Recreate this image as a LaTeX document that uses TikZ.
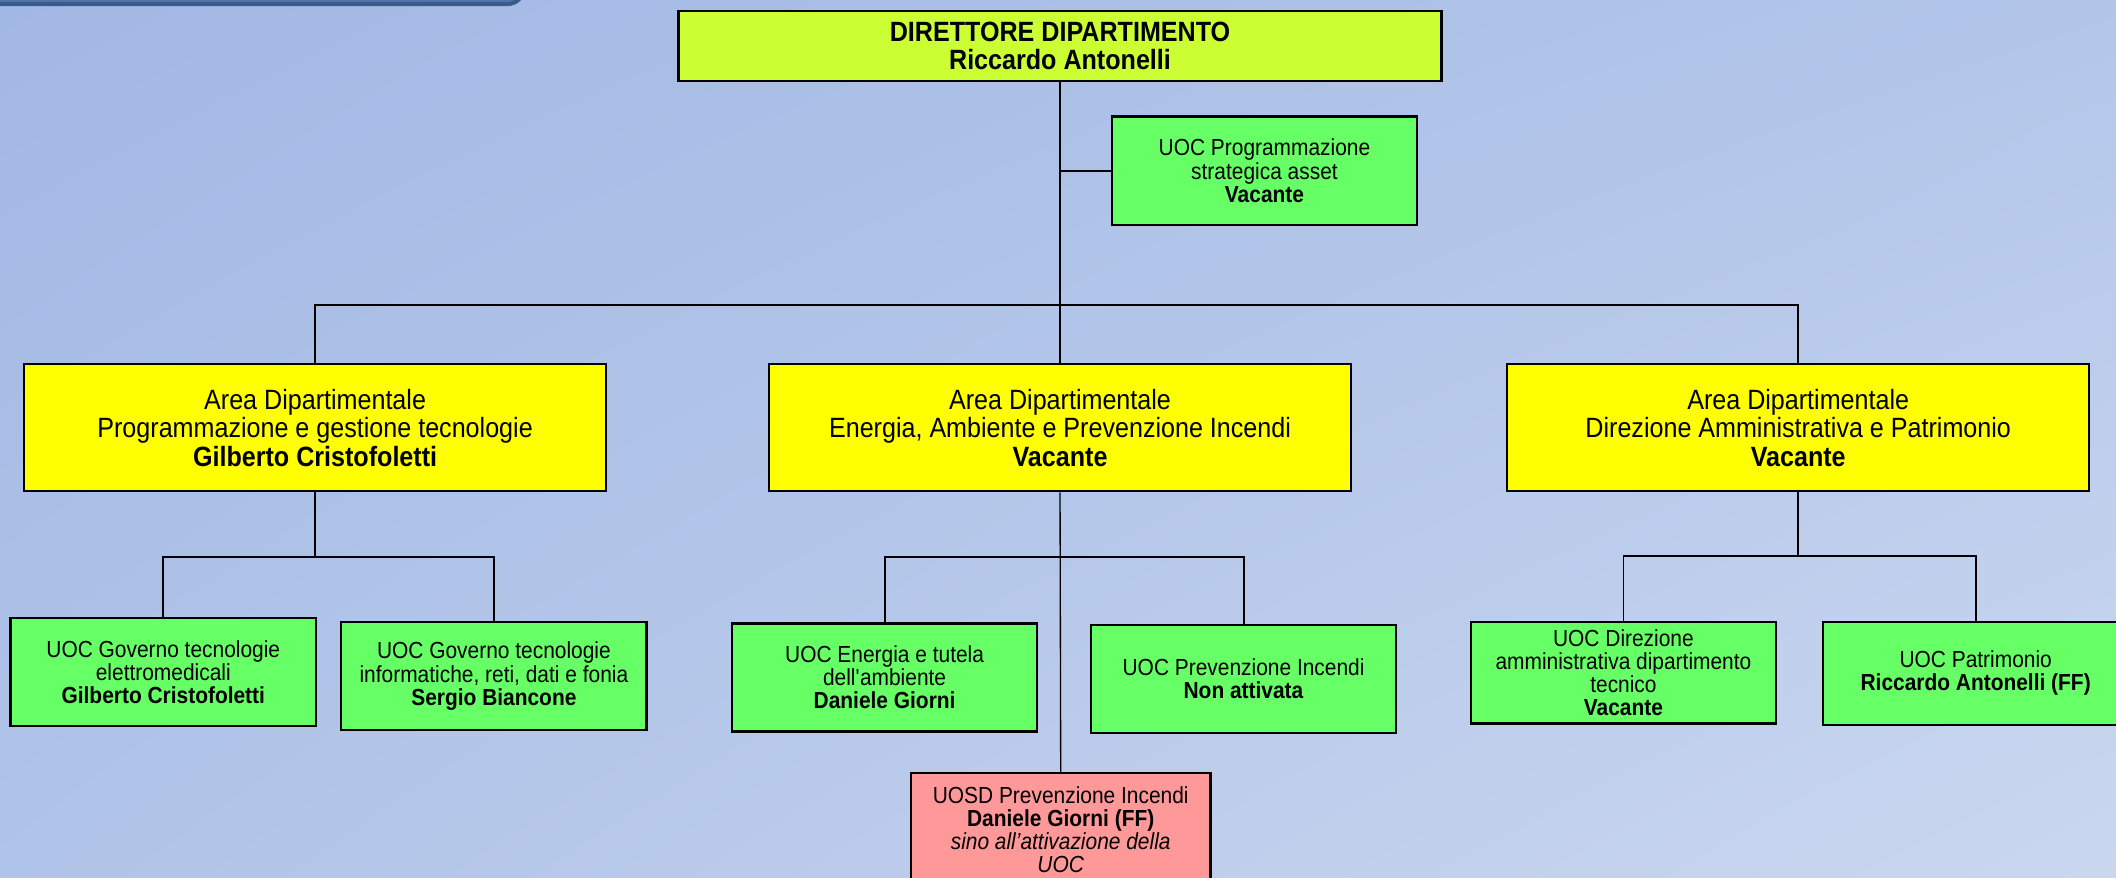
\documentclass[tikz,border=0pt]{standalone}
\usepackage{fontspec}
\setmainfont{Liberation Sans}[FakeStretch=0.9]
\usetikzlibrary{positioning,shadings}
\definecolor{bgtl}{HTML}{A2B8E4}
\definecolor{bgtr}{HTML}{B3C6EA}
\definecolor{bgbl}{HTML}{B0C3E8}
\definecolor{bgbr}{HTML}{CAD7EF}
\definecolor{tabfill}{HTML}{5274A8}
\definecolor{tabline}{HTML}{3A5A8C}
\definecolor{dirfill}{HTML}{CCFF33}
\definecolor{areafill}{HTML}{FFFF00}
\definecolor{uocfill}{HTML}{66FF66}
\definecolor{uosdfill}{HTML}{FF9999}
\begin{document}
\begin{tikzpicture}[
  x=0.017857cm, y=-0.017857cm,
  box/.style={rectangle, draw, line width=0.9pt, align=center, inner sep=2pt},
  head/.style={box, fill=dirfill, minimum width=10.09cm, minimum height=0.93cm, font=\fontsize{10.5}{10.8}\selectfont\bfseries},
  area/.style={box, fill=areafill, minimum width=7.7cm, minimum height=1.68cm, font=\fontsize{10.5}{10.8}\selectfont},
  uoc/.style={box, fill=uocfill, minimum width=4.04cm, minimum height=1.43cm, font=\fontsize{8.75}{8.7}\selectfont},
  uosd/.style={uoc, fill=uosdfill, minimum width=3.96cm, minimum height=1.5cm},
  link/.style={line width=0.7pt}
]
\useasboundingbox (0,0) rectangle (1568,650);
\shade[upper left=bgtl, upper right=bgtr, lower left=bgbl, lower right=bgbr] (0,0) rectangle (1568,650);
\draw[rounded corners=6pt, fill=tabfill, draw=tabline, line width=1.5pt] (-20,-40) rectangle (388,3);

\node[head] (dir) at (785.5,34) {DIRETTORE DIPARTIMENTO\\Riccardo Antonelli};
\node[uoc] (prog) at (937,126.5) {UOC Programmazione\\strategica asset\\\textbf{Vacante}};

\node[area] (area1) at (233.5,317) {Area Dipartimentale\\Programmazione e gestione tecnologie\\\textbf{Gilberto Cristofoletti}};
\node[area] (area2) at (785.5,317) {Area Dipartimentale\\Energia, Ambiente e Prevenzione Incendi\\\textbf{Vacante}};
\node[area] (area3) at (1332.5,317) {Area Dipartimentale\\Direzione Amministrativa e Patrimonio\\\textbf{Vacante}};

\node[uoc] (elettro) at (121,498) {UOC Governo tecnologie\\elettromedicali\\\textbf{Gilberto Cristofoletti}};
\node[uoc] (inform) at (366,501) {UOC Governo tecnologie\\informatiche, reti, dati e fonia\\\textbf{Sergio Biancone}};
\node[uoc] (energia) at (655.5,502) {UOC Energia e tutela\\dell\textquotesingle ambiente\\\textbf{Daniele Giorni}};
\node[uoc] (incendi) at (921.5,503) {UOC Prevenzione Incendi\\\textbf{Non attivata}};
\node[uoc, minimum height=1.34cm] (diramm) at (1203,498.5) {UOC Direzione\\amministrativa dipartimento\\tecnico\\\textbf{Vacante}};
\node[uoc, minimum height=1.36cm] (patrim) at (1464,499) {UOC Patrimonio\\\textbf{Riccardo Antonelli (FF)}};
\node[uosd] (uosd) at (786,615) {UOSD Prevenzione Incendi\\\textbf{Daniele Giorni (FF)}\\\textit{sino all’attivazione della}\\\textit{UOC}};

\coordinate (bus) at (786,226);
\coordinate (fork1) at (233.5,413);
\coordinate (fork2) at (785.5,413);
\coordinate (fork3) at (1332.5,412);

\draw[link] (dir.south) -- (area2.north);
\draw[link] (prog.west) -- (prog.west -| dir.south);
\draw[link] (area1.north) |- (bus) -| (area3.north);
\draw[link] (area1.south) -- (fork1);
\draw[link] (elettro.north) |- (fork1) -| (inform.north);
\draw[link] (energia.north) |- (fork2) -| (incendi.north);
\draw[link, line width=0.5pt] (area2.south) -- (uosd.north);
\draw[link] (area3.south) -- (fork3);
\draw[link] (diramm.north) |- (fork3) -| (patrim.north);
\end{tikzpicture}
\end{document}
